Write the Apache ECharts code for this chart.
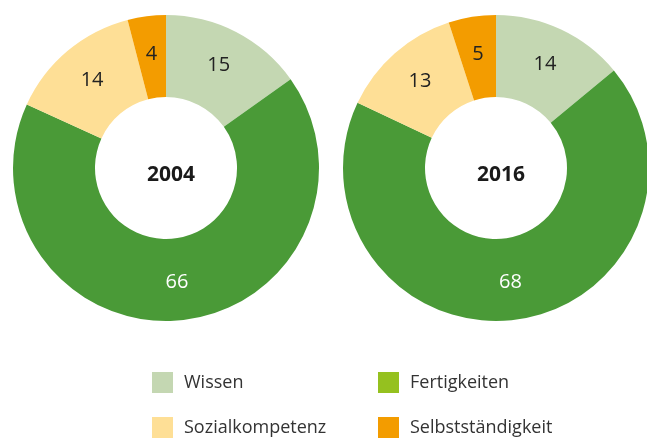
<!DOCTYPE html>
<html>
<head>
<meta charset="utf-8">
<script src="https://cdn.jsdelivr.net/npm/echarts@6/dist/echarts.min.js"></script>
<style>
  html, body { margin: 0; padding: 0; background: #fff; }
  #chart { width: 647px; height: 439px; }
</style>
</head>
<body>
<div id="chart"></div>
<script>
// categories in drawing order (clockwise from 12 o'clock)
var categories = ['Wissen', 'Fertigkeiten', 'Sozialkompetenz', 'Selbstständigkeit'];
var years = ['2004', '2016'];
var values2004 = [15, 66, 14, 4];
var values2016 = [14, 68, 13, 5];

var sliceColors = ['#c4d7b2', '#4a9a37', '#fedf96', '#f39c00'];
var legendColors = ['#c4d7b2', '#95c11f', '#fedf96', '#f39c00'];
var labelColors = ['#222', '#fff', '#222', '#222'];
// legend grid: [left, top] of each entry
var legendPos = [[152, 372], [378, 372], [152, 417], [378, 417]];

function makeData(vals) {
  return vals.map(function (v, i) {
    return {
      name: categories[i],
      value: v,
      itemStyle: { color: sliceColors[i] },
      label: { color: labelColors[i] }
    };
  });
}

function makePie(vals, cx) {
  return {
    type: 'pie',
    center: [cx, 168],
    radius: [71, 153],
    startAngle: 90,
    clockwise: true,
    avoidLabelOverlap: false,
    silent: true,
    label: {
      show: true,
      position: 'inside',
      formatter: '{c}',
      fontFamily: 'Open Sans',
      fontSize: 20
    },
    labelLine: { show: false },
    itemStyle: { borderWidth: 0 },
    data: makeData(vals)
  };
}

var legends = categories.map(function (name, i) {
  return {
    left: legendPos[i][0], top: legendPos[i][1], padding: 0,
    itemWidth: 21, itemHeight: 21,
    selectedMode: false, icon: 'rect',
    textStyle: { fontFamily: 'Open Sans', fontSize: 18, color: '#333', padding: [0, 0, 0, 6] },
    data: [{ name: name, itemStyle: { color: legendColors[i] } }]
  };
});

var myChart = echarts.init(document.getElementById('chart'));
myChart.setOption({
  animation: false,
  title: [
    { text: years[0], left: 166, top: 170, textAlign: 'center', textVerticalAlign: 'middle',
      textStyle: { fontFamily: 'Open Sans', fontSize: 21, fontWeight: 'bold', color: '#1a1a1a' } },
    { text: years[1], left: 496, top: 170, textAlign: 'center', textVerticalAlign: 'middle',
      textStyle: { fontFamily: 'Open Sans', fontSize: 21, fontWeight: 'bold', color: '#1a1a1a' } }
  ],
  legend: legends,
  series: [
    makePie(values2004, 166),
    makePie(values2016, 496)
  ]
});
</script>
</body>
</html>
